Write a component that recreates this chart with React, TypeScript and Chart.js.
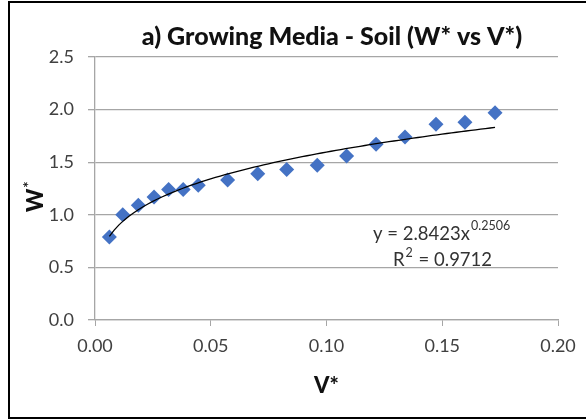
import { useEffect, useRef } from "react";
import { Chart, registerables } from "chart.js";

Chart.register(...registerables);

// Measured dimensionless volume (V*) and weight (W*) for the soil growing medium
const V_STAR = [0.0062, 0.012, 0.0187, 0.0255, 0.0318, 0.0381, 0.0446, 0.0573, 0.0703, 0.0828, 0.096, 0.1087, 0.1214, 0.1339, 0.1473, 0.1598, 0.1728];
const W_STAR = [0.79, 1.0, 1.09, 1.17, 1.24, 1.24, 1.28, 1.33, 1.39, 1.43, 1.47, 1.56, 1.67, 1.74, 1.86, 1.88, 1.97];

// Axis ranges / tick steps
const X_MIN = 0;
const X_MAX = 0.2;
const X_STEP = 0.05;
const Y_MIN = 0;
const Y_MAX = 2.5;
const Y_STEP = 0.5;

// Power trendline y = a * x^b
const FIT_A = 2.8423;
const FIT_B = 0.2506;
const FIT_R2 = 0.9712;

const TITLE = "a) Growing Media - Soil (W* vs V*)";
const X_TITLE = "V*";
const Y_TITLE = "W";

const FONT = "Lato, 'Open Sans', sans-serif";
const GRID = "#a6a6a6";
const TICK_TEXT = "#404040";
const MARKER = "#4472C4";

// Trendline sampled along the span of the measurements
function trendPoints() {
  const lo = V_STAR[0];
  const hi = V_STAR[V_STAR.length - 1];
  const n = 80;
  const pts: { x: number; y: number }[] = [];
  for (let i = 0; i <= n; i++) {
    const x = lo + ((hi - lo) * i) / n;
    pts.push({ x, y: FIT_A * Math.pow(x, FIT_B) });
  }
  return pts;
}

const decorations = {
  id: "decorations",
  beforeDraw(chart: any) {
    const { ctx, width, height } = chart;
    ctx.save();
    ctx.fillStyle = "#ffffff";
    ctx.fillRect(0, 0, width, height);
    ctx.restore();
  },
  afterDraw(chart: any) {
    const { ctx, chartArea } = chart;
    ctx.save();

    // frame
    ctx.strokeStyle = "#000000";
    ctx.lineWidth = 2;
    ctx.strokeRect(9, 2, 620, 416);

    // chart title
    ctx.fillStyle = "#111111";
    ctx.font = `900 25px ${FONT}`;
    ctx.textAlign = "center";
    ctx.textBaseline = "alphabetic";
    ctx.fillText(TITLE, 332, 45);

    // x axis title
    ctx.font = `900 22px ${FONT}`;
    ctx.fillText(X_TITLE, (chartArea.left + chartArea.right) / 2, 393);

    // y axis title with raised asterisk
    ctx.save();
    ctx.translate(43, 212);
    ctx.rotate(-Math.PI / 2);
    ctx.textAlign = "left";
    ctx.font = `900 22px ${FONT}`;
    ctx.fillText(Y_TITLE, 0, 0);
    const ww = ctx.measureText(Y_TITLE).width;
    ctx.font = `bold 15px ${FONT}`;
    ctx.fillText("*", ww + 1, -9);
    ctx.restore();

    // trendline equation and R²
    ctx.fillStyle = "#333333";
    ctx.textAlign = "left";
    const main = `y = ${FIT_A.toFixed(4)}x`;
    ctx.font = `18.5px ${FONT}`;
    ctx.fillText(main, 373, 240);
    const mw = ctx.measureText(main).width;
    ctx.font = `12.5px ${FONT}`;
    ctx.fillText(FIT_B.toFixed(4), 373 + mw + 1, 230);

    ctx.font = `18.5px ${FONT}`;
    ctx.fillText("R", 393, 266);
    const rw = ctx.measureText("R").width;
    ctx.font = `12.5px ${FONT}`;
    ctx.fillText("2", 393 + rw + 1, 257);
    const sw = ctx.measureText("2").width;
    ctx.font = `18.5px ${FONT}`;
    ctx.fillText(` = ${FIT_R2.toFixed(4)}`, 393 + rw + sw + 2, 266);

    ctx.restore();
  },
};

export default function App() {
  const ref = useRef<HTMLCanvasElement | null>(null);

  useEffect(() => {
    document.body.style.margin = "0";
    const canvas = ref.current;
    if (!canvas) return;
    const chart = new Chart(canvas, {
      type: "scatter",
      data: {
        datasets: [
          {
            label: "W*",
            data: V_STAR.map((x, i) => ({ x, y: W_STAR[i] })),
            pointStyle: "rectRot",
            pointRadius: 7.5,
            pointHoverRadius: 7.5,
            backgroundColor: MARKER,
            borderColor: MARKER,
            borderWidth: 0,
            order: 2,
          },
          {
            label: "Power fit",
            type: "line",
            data: trendPoints(),
            borderColor: "#000000",
            borderWidth: 1.3,
            pointRadius: 0,
            fill: false,
            tension: 0,
            order: 1,
          } as any,
        ],
      },
      options: {
        responsive: false,
        animation: false,
        layout: { padding: { top: 57, right: 28, left: 0, bottom: 0 } },
        plugins: {
          legend: { display: false },
          title: { display: false },
          tooltip: { enabled: false },
        },
        scales: {
          x: {
            type: "linear",
            min: X_MIN,
            max: X_MAX,
            afterFit: (s: any) => {
              s.height = 100;
            },
            ticks: {
              stepSize: X_STEP,
              callback: (v: any) => Number(v).toFixed(2),
              font: { family: FONT, size: 18 },
              color: TICK_TEXT,
              padding: 9,
            },
            grid: {
              drawOnChartArea: false,
              drawTicks: true,
              tickLength: 6,
              color: GRID,
            },
            border: { color: GRID, width: 1.3 },
          },
          y: {
            min: Y_MIN,
            max: Y_MAX,
            afterFit: (s: any) => {
              s.width = 95;
            },
            ticks: {
              stepSize: Y_STEP,
              callback: (v: any) => Number(v).toFixed(1),
              font: { family: FONT, size: 18 },
              color: TICK_TEXT,
              padding: 14,
            },
            grid: {
              color: GRID,
              lineWidth: 1.3,
              drawTicks: true,
              tickLength: 7,
            },
            border: { color: GRID, width: 1.3 },
          },
        },
      },
      plugins: [decorations],
    });
    return () => chart.destroy();
  }, []);

  return (
    <div style={{ width: 586, height: 420 }}>
      <canvas ref={ref} width={586} height={420} style={{ display: "block" }} />
    </div>
  );
}
